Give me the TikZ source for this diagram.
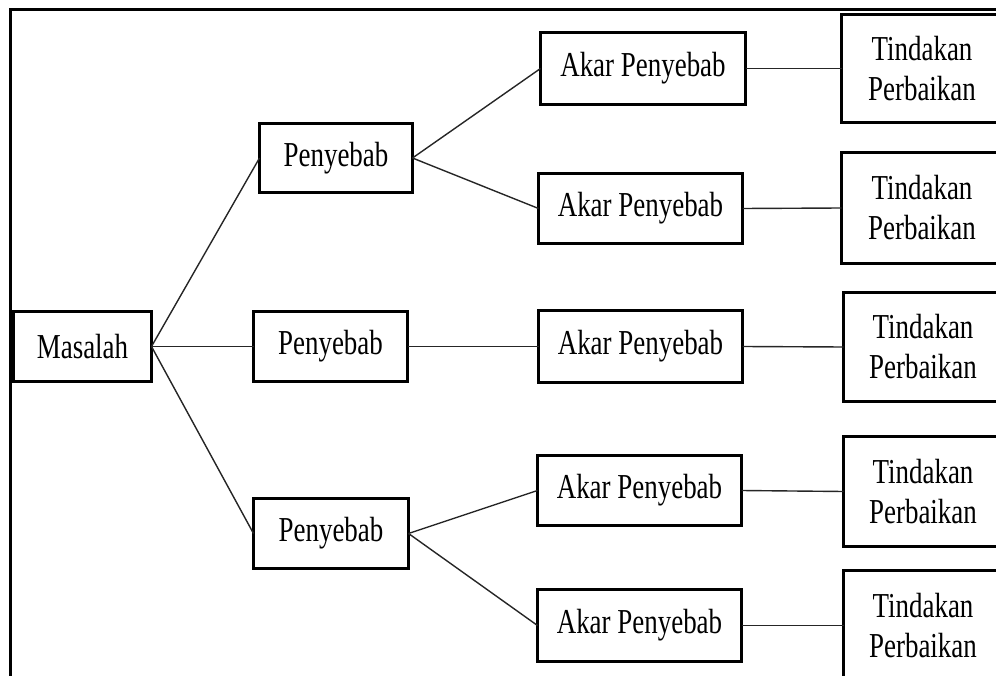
\documentclass[tikz,border=0pt]{standalone}
\usepackage{fontspec}
\setmainfont{Liberation Serif}[FakeStretch=0.77]
\begin{document}
\begin{tikzpicture}[x=1pt,y=-1pt,
  box/.style={draw,line width=3.5pt,inner sep=0pt,outer sep=0pt,align=center,
    font=\fontsize{35}{40}\selectfont},
  conn/.style={line width=1.4pt,black!85},
  frame/.style={line width=3pt}]
\useasboundingbox (0,0) rectangle (996,676);
\clip (0,0) rectangle (996,676);
% outer frame
\coordinate (fb) at (10,700);
\coordinate (ftl) at (10,10);
\coordinate (fr) at (1010,10);
\draw[frame] (fb) -- (ftl) -- (fr);
% nodes
\node[box,minimum width=138pt,minimum height=70pt] (M) at (82.5,346.5) {Masalah};
\node[box,minimum width=153pt,minimum height=69pt] (P1) at (336,158) {Penyebab};
\node[box,minimum width=154pt,minimum height=70pt] (P2) at (330.5,346.5) {Penyebab};
\node[box,minimum width=155pt,minimum height=70pt] (P3) at (331,533.5) {Penyebab};
\node[box,minimum width=205pt,minimum height=72pt] (A1) at (643,68.5) {Akar Penyebab};
\node[box,minimum width=204pt,minimum height=70pt] (A2) at (640.5,208.5) {Akar Penyebab};
\node[box,minimum width=204pt,minimum height=72pt] (A3) at (640.5,346.5) {Akar Penyebab};
\node[box,minimum width=204pt,minimum height=70pt] (A4) at (639.5,490.5) {Akar Penyebab};
\node[box,minimum width=204pt,minimum height=72pt] (A5) at (639.5,625.5) {Akar Penyebab};
\node[box,minimum width=161pt,minimum height=108pt] (T1) at (922,68.5) {Tindakan\\Perbaikan};
\node[box,minimum width=161pt,minimum height=111pt] (T2) at (922,208) {Tindakan\\Perbaikan};
\node[box,minimum width=159pt,minimum height=109pt] (T3) at (923,347) {Tindakan\\Perbaikan};
\node[box,minimum width=159pt,minimum height=110pt] (T4) at (923,491.5) {Tindakan\\Perbaikan};
\node[box,minimum width=159pt,minimum height=110pt] (T5) at (923,625.5) {Tindakan\\Perbaikan};
% connectors
\draw[conn] (M.east) -- (P1.west);
\draw[conn] (M.east) -- (P2.west);
\draw[conn] (M.east) -- (P3.west);
\draw[conn] (P1.east) -- (A1.west);
\draw[conn] (P1.east) -- (A2.west);
\draw[conn] (P2.east) -- (A3.west);
\draw[conn] (P3.east) -- (A4.west);
\draw[conn] (P3.east) -- (A5.west);
\draw[conn] (A1.east) -- (T1.west);
\draw[conn] (A2.east) -- (T2.west);
\draw[conn] (A3.east) -- (T3.west);
\draw[conn] (A4.east) -- (T4.west);
\draw[conn] (A5.east) -- (T5.west);
\end{tikzpicture}
\end{document}
